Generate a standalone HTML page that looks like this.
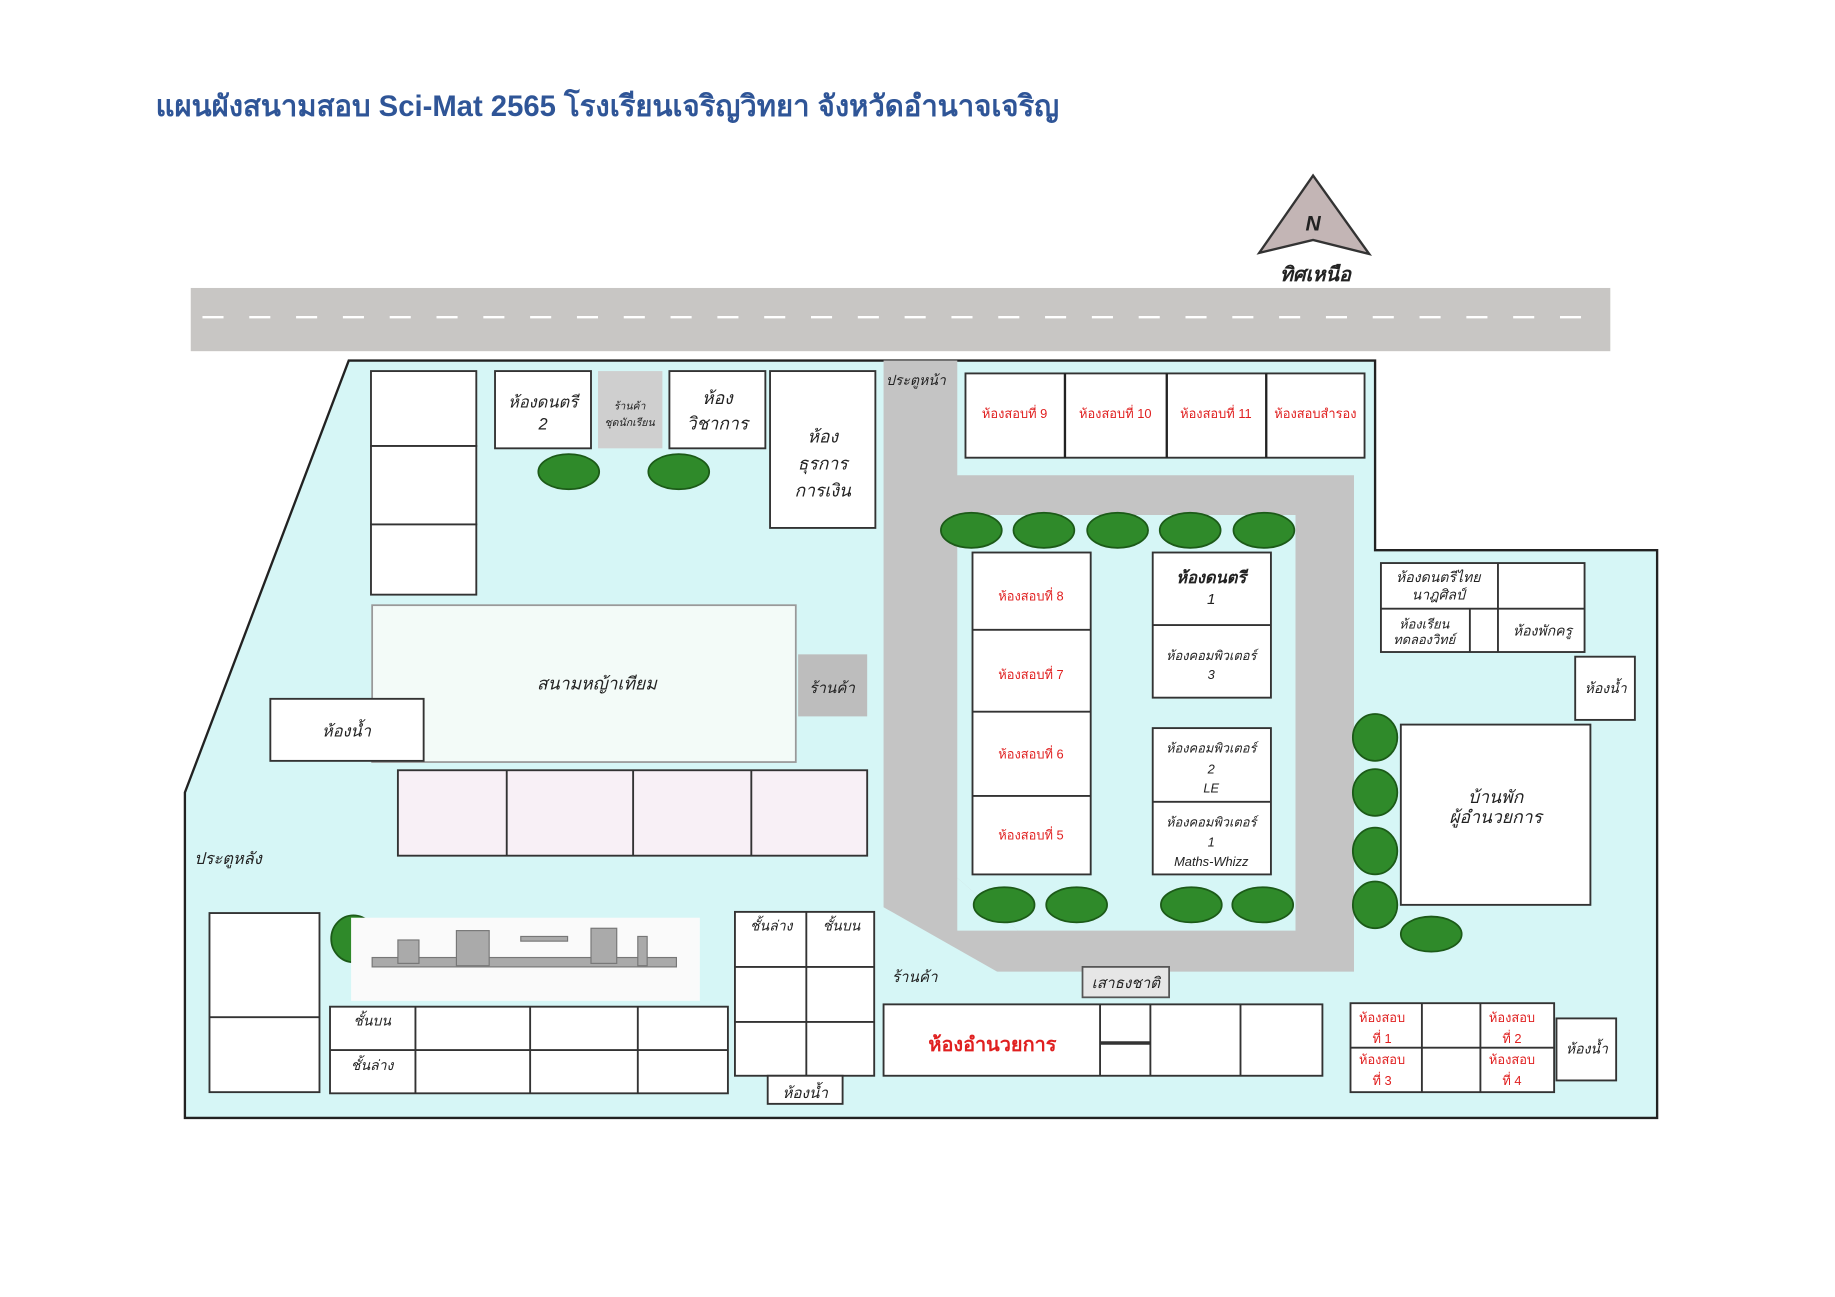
<!DOCTYPE html>
<html><head><meta charset="utf-8"><style>
html,body{margin:0;padding:0;background:#fff}
svg{display:block}
text{font-family:"Liberation Sans","DejaVu Sans",sans-serif}
.it{font-style:italic;fill:#222}
.r{fill:#e02020;font-size:11px}
.b{fill:#fff;stroke:#333;stroke-width:1.6}
</style></head><body>
<svg width="1835" height="1297" viewBox="0 0 1568 1108" preserveAspectRatio="none" xmlns="http://www.w3.org/2000/svg">
<rect width="1568" height="1108" fill="#fff"/>
<text x="133" y="99" font-size="25" font-weight="bold" fill="#2f5597">แผนผังสนามสอบ Sci-Mat 2565 โรงเรียนเจริญวิทยา จังหวัดอำนาจเจริญ</text>
<!-- north -->
<polygon points="1122,150 1076,216 1122,205 1170,217" fill="#c3b5b5" stroke="#333" stroke-width="2"/>
<text x="1122" y="197" text-anchor="middle" class="it" font-size="18" font-weight="bold">N</text>
<text x="1124" y="240" text-anchor="middle" class="it" font-size="17" font-weight="bold">ทิศเหนือ</text>
<!-- road -->
<rect x="163" y="246" width="1213" height="54" fill="#c8c6c4"/>
<line x1="173" y1="271" x2="1370" y2="271" stroke="#fff" stroke-width="2" stroke-dasharray="18,22"/>
<!-- campus -->
<polygon points="298,308 1175,308 1175,470 1416,470 1416,955 158,955 158,677" fill="#d6f6f6" stroke="#222" stroke-width="2"/>
<!-- gray path -->
<path d="M755,308 H818 V406 H1157 V830 H852 L755,775 Z M818,440 V750 L870,795 H1107 V440 Z" fill="#c4c4c4" fill-rule="evenodd"/>
<polygon points="818,750 870,795 818,795" fill="#d6f6f6"/>
<text x="757" y="329" class="it" font-size="12">ประตูหน้า</text>
<!-- top-left buildings -->
<rect class="b" x="317" y="317" width="90" height="64"/>
<rect class="b" x="317" y="381" width="90" height="67"/>
<rect class="b" x="317" y="448" width="90" height="60"/>
<rect class="b" x="423" y="317" width="82" height="66"/>
<text x="464" y="348" text-anchor="middle" class="it" font-size="14">ห้องดนตรี</text>
<text x="464" y="367" text-anchor="middle" class="it" font-size="14">2</text>
<rect x="511" y="317" width="55" height="66" fill="#cfcfcf"/>
<text x="538" y="350" text-anchor="middle" class="it" font-size="9">ร้านค้า</text>
<text x="538" y="364" text-anchor="middle" class="it" font-size="9">ชุดนักเรียน</text>
<rect class="b" x="572" y="317" width="82" height="66"/>
<text x="613" y="345" text-anchor="middle" class="it" font-size="15">ห้อง</text>
<text x="613" y="367" text-anchor="middle" class="it" font-size="15">วิชาการ</text>
<rect class="b" x="658" y="317" width="90" height="134"/>
<text x="703" y="378" text-anchor="middle" class="it" font-size="15">ห้อง</text>
<text x="703" y="401" text-anchor="middle" class="it" font-size="15">ธุรการ</text>
<text x="703" y="424" text-anchor="middle" class="it" font-size="15">การเงิน</text>
<g fill="#2f8a2a" stroke="#1c5a18" stroke-width="1.5">
<ellipse cx="486" cy="403" rx="26" ry="15"/><ellipse cx="580" cy="403" rx="26" ry="15"/>
<ellipse cx="830" cy="453" rx="26" ry="15"/><ellipse cx="892" cy="453" rx="26" ry="15"/><ellipse cx="955" cy="453" rx="26" ry="15"/><ellipse cx="1017" cy="453" rx="26" ry="15"/><ellipse cx="1080" cy="453" rx="26" ry="15"/>
<ellipse cx="858" cy="773" rx="26" ry="15"/><ellipse cx="920" cy="773" rx="26" ry="15"/><ellipse cx="1018" cy="773" rx="26" ry="15"/><ellipse cx="1079" cy="773" rx="26" ry="15"/>
<ellipse cx="1175" cy="630" rx="19" ry="20"/><ellipse cx="1175" cy="677" rx="19" ry="20"/><ellipse cx="1175" cy="727" rx="19" ry="20"/><ellipse cx="1175" cy="773" rx="19" ry="20"/>
<ellipse cx="1223" cy="798" rx="26" ry="15"/><ellipse cx="302" cy="802" rx="19" ry="20"/>
</g>
<!-- exam rooms top -->
<rect class="b" x="825" y="319" width="341" height="72"/>
<g stroke="#222" stroke-width="2"><line x1="910" y1="319" x2="910" y2="391"/><line x1="997" y1="319" x2="997" y2="391"/><line x1="1082" y1="319" x2="1082" y2="391"/></g>
<text x="867" y="357" text-anchor="middle" class="r">ห้องสอบที่ 9</text>
<text x="953" y="357" text-anchor="middle" class="r">ห้องสอบที่ 10</text>
<text x="1039" y="357" text-anchor="middle" class="r">ห้องสอบที่ 11</text>
<text x="1124" y="357" text-anchor="middle" class="r">ห้องสอบสำรอง</text>
<!-- exam 8-5 -->
<rect class="b" x="831" y="472" width="101" height="275"/>
<g stroke="#333" stroke-width="1.6"><line x1="831" y1="538" x2="932" y2="538"/><line x1="831" y1="608" x2="932" y2="608"/><line x1="831" y1="680" x2="932" y2="680"/></g>
<text x="881" y="513" text-anchor="middle" class="r" font-size="13">ห้องสอบที่ 8</text>
<text x="881" y="580" text-anchor="middle" class="r" font-size="13">ห้องสอบที่ 7</text>
<text x="881" y="648" text-anchor="middle" class="r" font-size="13">ห้องสอบที่ 6</text>
<text x="881" y="717" text-anchor="middle" class="r" font-size="13">ห้องสอบที่ 5</text>
<rect class="b" x="985" y="472" width="101" height="124"/>
<line x1="985" y1="534" x2="1086" y2="534" stroke="#333" stroke-width="1.6"/>
<text x="1035" y="498" text-anchor="middle" class="it" font-size="14" font-weight="bold">ห้องดนตรี</text>
<text x="1035" y="516" text-anchor="middle" class="it" font-size="13">1</text>
<text x="1035" y="564" text-anchor="middle" class="it" font-size="11">ห้องคอมพิวเตอร์</text>
<text x="1035" y="580" text-anchor="middle" class="it" font-size="11">3</text>
<rect class="b" x="985" y="622" width="101" height="125"/>
<line x1="985" y1="685" x2="1086" y2="685" stroke="#333" stroke-width="1.6"/>
<text x="1035" y="643" text-anchor="middle" class="it" font-size="11">ห้องคอมพิวเตอร์</text>
<text x="1035" y="661" text-anchor="middle" class="it" font-size="11">2</text>
<text x="1035" y="677" text-anchor="middle" class="it" font-size="11">LE</text>
<text x="1035" y="706" text-anchor="middle" class="it" font-size="11">ห้องคอมพิวเตอร์</text>
<text x="1035" y="723" text-anchor="middle" class="it" font-size="11">1</text>
<text x="1035" y="740" text-anchor="middle" class="it" font-size="11">Maths-Whizz</text>
<!-- right block -->
<rect class="b" x="1180" y="481" width="174" height="76"/>
<g stroke="#333" stroke-width="1.6"><line x1="1180" y1="520" x2="1354" y2="520"/><line x1="1280" y1="481" x2="1280" y2="557"/><line x1="1256" y1="520" x2="1256" y2="557"/></g>
<text x="1229" y="497" text-anchor="middle" class="it" font-size="12">ห้องดนตรีไทย</text>
<text x="1229" y="512" text-anchor="middle" class="it" font-size="12">นาฎศิลป์</text>
<text x="1217" y="537" text-anchor="middle" class="it" font-size="11">ห้องเรียน</text>
<text x="1217" y="550" text-anchor="middle" class="it" font-size="11">ทดลองวิทย์</text>
<text x="1318" y="543" text-anchor="middle" class="it" font-size="12">ห้องพักครู</text>
<rect class="b" x="1346" y="561" width="51" height="54"/>
<text x="1372" y="592" text-anchor="middle" class="it" font-size="12">ห้องน้ำ</text>
<rect class="b" x="1197" y="619" width="162" height="154"/>
<text x="1278" y="686" text-anchor="middle" class="it" font-size="15">บ้านพัก</text>
<text x="1278" y="703" text-anchor="middle" class="it" font-size="15">ผู้อำนวยการ</text>
<!-- field -->
<rect x="318" y="517" width="362" height="134" fill="#f3fbf8" stroke="#999" stroke-width="1.5"/>
<text x="510" y="589" text-anchor="middle" class="it" font-size="15">สนามหญ้าเทียม</text>
<rect x="682" y="559" width="59" height="53" fill="#bdbdbd"/>
<text x="711" y="592" text-anchor="middle" class="it" font-size="13">ร้านค้า</text>
<rect class="b" x="231" y="597" width="131" height="53"/>
<text x="296" y="629" text-anchor="middle" class="it" font-size="14">ห้องน้ำ</text>
<rect x="340" y="658" width="401" height="73" fill="#f8f0f6" stroke="#333" stroke-width="1.6"/>
<g stroke="#333" stroke-width="1.6"><line x1="433" y1="658" x2="433" y2="731"/><line x1="541" y1="658" x2="541" y2="731"/><line x1="642" y1="658" x2="642" y2="731"/></g>
<text x="166" y="738" class="it" font-size="14">ประตูหลัง</text>
<!-- bottom -->
<rect class="b" x="179" y="780" width="94" height="153"/>
<line x1="179" y1="869" x2="273" y2="869" stroke="#333" stroke-width="1.6"/>
<rect x="300" y="784" width="298" height="71" fill="#fafafa"/>
<g fill="#aaa" stroke="#777">
<rect x="318" y="818" width="260" height="8"/><rect x="390" y="795" width="28" height="30"/><rect x="505" y="793" width="22" height="30"/><rect x="445" y="800" width="40" height="4"/><rect x="545" y="800" width="8" height="25"/><rect x="340" y="803" width="18" height="20"/></g>
<rect class="b" x="282" y="860" width="340" height="74"/>
<g stroke="#333" stroke-width="1.6"><line x1="282" y1="897" x2="622" y2="897"/><line x1="355" y1="860" x2="355" y2="934"/><line x1="453" y1="860" x2="453" y2="934"/><line x1="545" y1="860" x2="545" y2="934"/></g>
<text x="318" y="876" text-anchor="middle" class="it" font-size="12">ชั้นบน</text>
<text x="318" y="914" text-anchor="middle" class="it" font-size="12">ชั้นล่าง</text>
<rect class="b" x="628" y="779" width="119" height="140"/>
<g stroke="#333" stroke-width="1.6"><line x1="689" y1="779" x2="689" y2="919"/><line x1="628" y1="826" x2="747" y2="826"/><line x1="628" y1="873" x2="747" y2="873"/></g>
<text x="659" y="795" text-anchor="middle" class="it" font-size="12">ชั้นล่าง</text>
<text x="719" y="795" text-anchor="middle" class="it" font-size="12">ชั้นบน</text>
<rect class="b" x="656" y="919" width="64" height="24"/>
<text x="688" y="938" text-anchor="middle" class="it" font-size="13">ห้องน้ำ</text>
<text x="762" y="839" class="it" font-size="13">ร้านค้า</text>
<rect x="925" y="826" width="74" height="26" fill="#e6e6e6" stroke="#555" stroke-width="1.5"/>
<text x="962" y="844" text-anchor="middle" class="it" font-size="13">เสาธงชาติ</text>
<rect class="b" x="755" y="858" width="375" height="61"/>
<g stroke="#333" stroke-width="1.6"><line x1="940" y1="858" x2="940" y2="919"/><line x1="983" y1="858" x2="983" y2="919"/><line x1="1060" y1="858" x2="1060" y2="919"/><line x1="940" y1="891" x2="983" y2="891" stroke-width="3"/></g>
<text x="848" y="898" text-anchor="middle" font-size="17" font-weight="bold" fill="#e02020">ห้องอำนวยการ</text>
<rect class="b" x="1154" y="857" width="174" height="76"/>
<g stroke="#333" stroke-width="1.6"><line x1="1215" y1="857" x2="1215" y2="933"/><line x1="1265" y1="857" x2="1265" y2="933"/><line x1="1154" y1="895" x2="1328" y2="895"/></g>
<g class="r" font-size="10" text-anchor="middle" fill="#e02020">
<text x="1181" y="873">ห้องสอบ</text><text x="1181" y="891">ที่ 1</text>
<text x="1292" y="873">ห้องสอบ</text><text x="1292" y="891">ที่ 2</text>
<text x="1181" y="909">ห้องสอบ</text><text x="1181" y="927">ที่ 3</text>
<text x="1292" y="909">ห้องสอบ</text><text x="1292" y="927">ที่ 4</text></g>
<rect class="b" x="1330" y="870" width="51" height="53"/>
<text x="1356" y="900" text-anchor="middle" class="it" font-size="12">ห้องน้ำ</text>
</svg>
</body></html>
